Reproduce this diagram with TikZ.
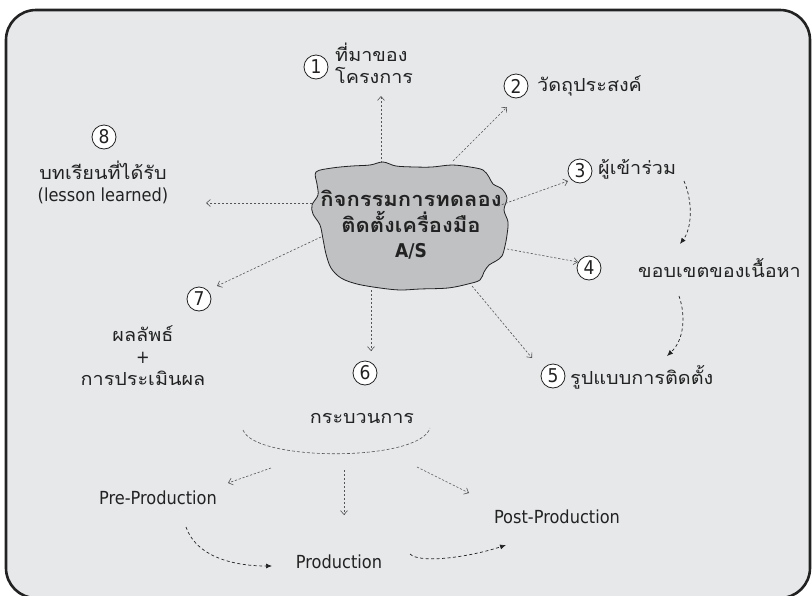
\documentclass[tikz,border=0pt]{standalone}
\usepackage{fontspec}
\usetikzlibrary{arrows.meta}
\setmainfont[FakeStretch=0.9]{DejaVu Sans}
\newfontfamily\thai[Script=Thai,FakeStretch=1.1]{Loma}
\newfontfamily\thaibold[Script=Thai,FakeStretch=1.1]{Loma}
\definecolor{panel}{HTML}{E7E8EA}
\definecolor{blobfill}{HTML}{C0C1C3}
\definecolor{ink}{HTML}{222222}
\definecolor{dashink}{HTML}{555555}
\tikzset{
  frame/.style={draw=ink, line width=2.6pt, fill=panel, rounded corners=30pt},
  numbox/.style={circle, draw=ink, line width=0.8pt, fill=white, inner sep=0pt,
    minimum size=24pt, font=\fontsize{19}{19}\selectfont, text=ink},
  lbl/.style={font=\fontsize{18}{22}\selectfont, text=ink, inner sep=0pt},
  thlbl/.style={font=\thai\fontsize{18}{22}\selectfont, text=ink, inner sep=0pt},
  core/.style={font=\thaibold\bfseries\fontsize{20}{25.5}\selectfont, text=ink, align=center, inner sep=0pt},
  spoke/.style={draw=dashink, line width=0.6pt, dash pattern=on 2.2pt off 1.8pt,
    -{Straight Barb[length=4pt,width=7pt]}},
  flow/.style={draw=ink, line width=0.7pt, dash pattern=on 3pt off 2.5pt,
    -{Latex[length=6pt,width=5pt]}},
}
\begin{document}
\begin{tikzpicture}[x=1pt,y=-1pt]
\useasboundingbox (0,0) rectangle (812,595);
\fill[white] (0,0) rectangle (812,595);
% panel
\draw[frame] (6,10) rectangle (810,598);

% central blob
\draw[ink, line width=0.8pt, fill=blobfill] plot[smooth cycle, tension=0.55] coordinates {
 (316,172) (332,168) (352,166) (370,165) (383,162) (396,166) (415,167) (432,167)
 (452,165) (470,167) (483,170) (489,177) (493,184) (502,189) (507,198) (504,210)
 (508,222) (507,235) (505,246) (502,256) (496,261) (489,265) (484,272) (480,280)
 (468,284) (448,288) (420,289) (400,290) (380,288) (357,284) (341,278) (331,268)
 (326,254) (323,239) (320,225) (313,214) (312,205) (318,195) (317,184)};
\node[core] (hub) at (411,225) {กิจกรรมการทดลอง\\ติดตั้งเครื่องมือ\\{\rmfamily\bfseries\fontsize{19}{19}\selectfont A/S}};

% numbered topics
\node[numbox] (n1) at (316,67) {1};
\node[thlbl, anchor=west, align=left] (t1) at (335,63) {ที่มาของ\\โครงการ};
\node[numbox] (n2) at (516,86) {2};
\node[thlbl, anchor=west] (t2) at (537,86) {วัดถุประสงค์};
\node[numbox] (n3) at (580,171) {3};
\node[thlbl, anchor=west] (t3) at (598,169) {ผู้เข้าร่วม};
\node[numbox] (n4) at (589,268) {4};
\node[thlbl, anchor=west] (t4) at (638,268) {ขอบเขตของเนื้อหา};
\node[numbox] (n5) at (553,376) {5};
\node[thlbl, anchor=west] (t5) at (570,377) {รูปแบบการติดตั้ง};
\node[numbox] (n6) at (365,373) {6};
\node[thlbl] (t6) at (362,418) {กระบวนการ};
\node[numbox] (n7) at (199,299) {7};
\node[thlbl, align=center] (t7) at (143,356) {ผลลัพธ์\\{\rmfamily +}\\การประเมินผล};
\node[numbox] (n8) at (104,137) {8};
\node[thlbl, align=center] (t8) at (103,182) {บทเรียนที่ได้รับ\\{\rmfamily (lesson learned)}};

% production stages
\node[lbl] (pre) at (158,498) {Pre-Production};
\node[lbl] (prod) at (339,562) {Production};
\node[lbl] (post) at (557,517) {Post-Production};

% spoke end points
\coordinate (s1) at (381,163);  \coordinate (e1) at (381,96);
\coordinate (s2) at (453,161);  \coordinate (e2) at (507,107);
\coordinate (s3) at (498,206);  \coordinate (e3) at (568,181);
\coordinate (s4) at (507,249);  \coordinate (e4) at (578,262);
\coordinate (s5) at (472,286);  \coordinate (e5) at (532,358);
\coordinate (s6) at (371,290);  \coordinate (e6) at (371,351);
\coordinate (s7) at (321,237);  \coordinate (e7) at (217,286);
\coordinate (s8) at (312,203);  \coordinate (e8) at (206,203);

\foreach \i in {1,...,8} { \draw[spoke] (s\i) -- (e\i); }

% sequence between topics 3, 4 and 5
\coordinate (f3) at (684,181); \coordinate (f4) at (680,244);
\coordinate (g4) at (679,296); \coordinate (g5) at (667,356);
\draw[flow] (f3) .. controls (693,202) and (692,228) .. (f4);
\draw[flow] (g4) .. controls (686,316) and (684,340) .. (g5);

% process bracket under topic 6
\coordinate (b1) at (243,430); \coordinate (b2) at (430,428);
\draw[dashink, line width=0.6pt, dash pattern=on 3pt off 2pt]
  (b1) .. controls (255,462) and (420,462) .. (b2);
\coordinate (p1) at (271,468); \coordinate (q1) at (228,483);
\coordinate (p2) at (344,470); \coordinate (q2) at (344,515);
\coordinate (p3) at (417,467); \coordinate (q3) at (469,493);
\draw[spoke] (p1) -- (q1);
\draw[spoke] (p2) -- (q2);
\draw[spoke] (p3) -- (q3);

% stage order
\coordinate (r1) at (186,527); \coordinate (r2) at (272,566);
\coordinate (r3) at (410,554); \coordinate (r4) at (506,545);
\draw[flow] (r1) .. controls (196,556) and (232,566) .. (r2);
\draw[flow] (r3) .. controls (420,564) and (470,557) .. (r4);
\end{tikzpicture}
\end{document}
